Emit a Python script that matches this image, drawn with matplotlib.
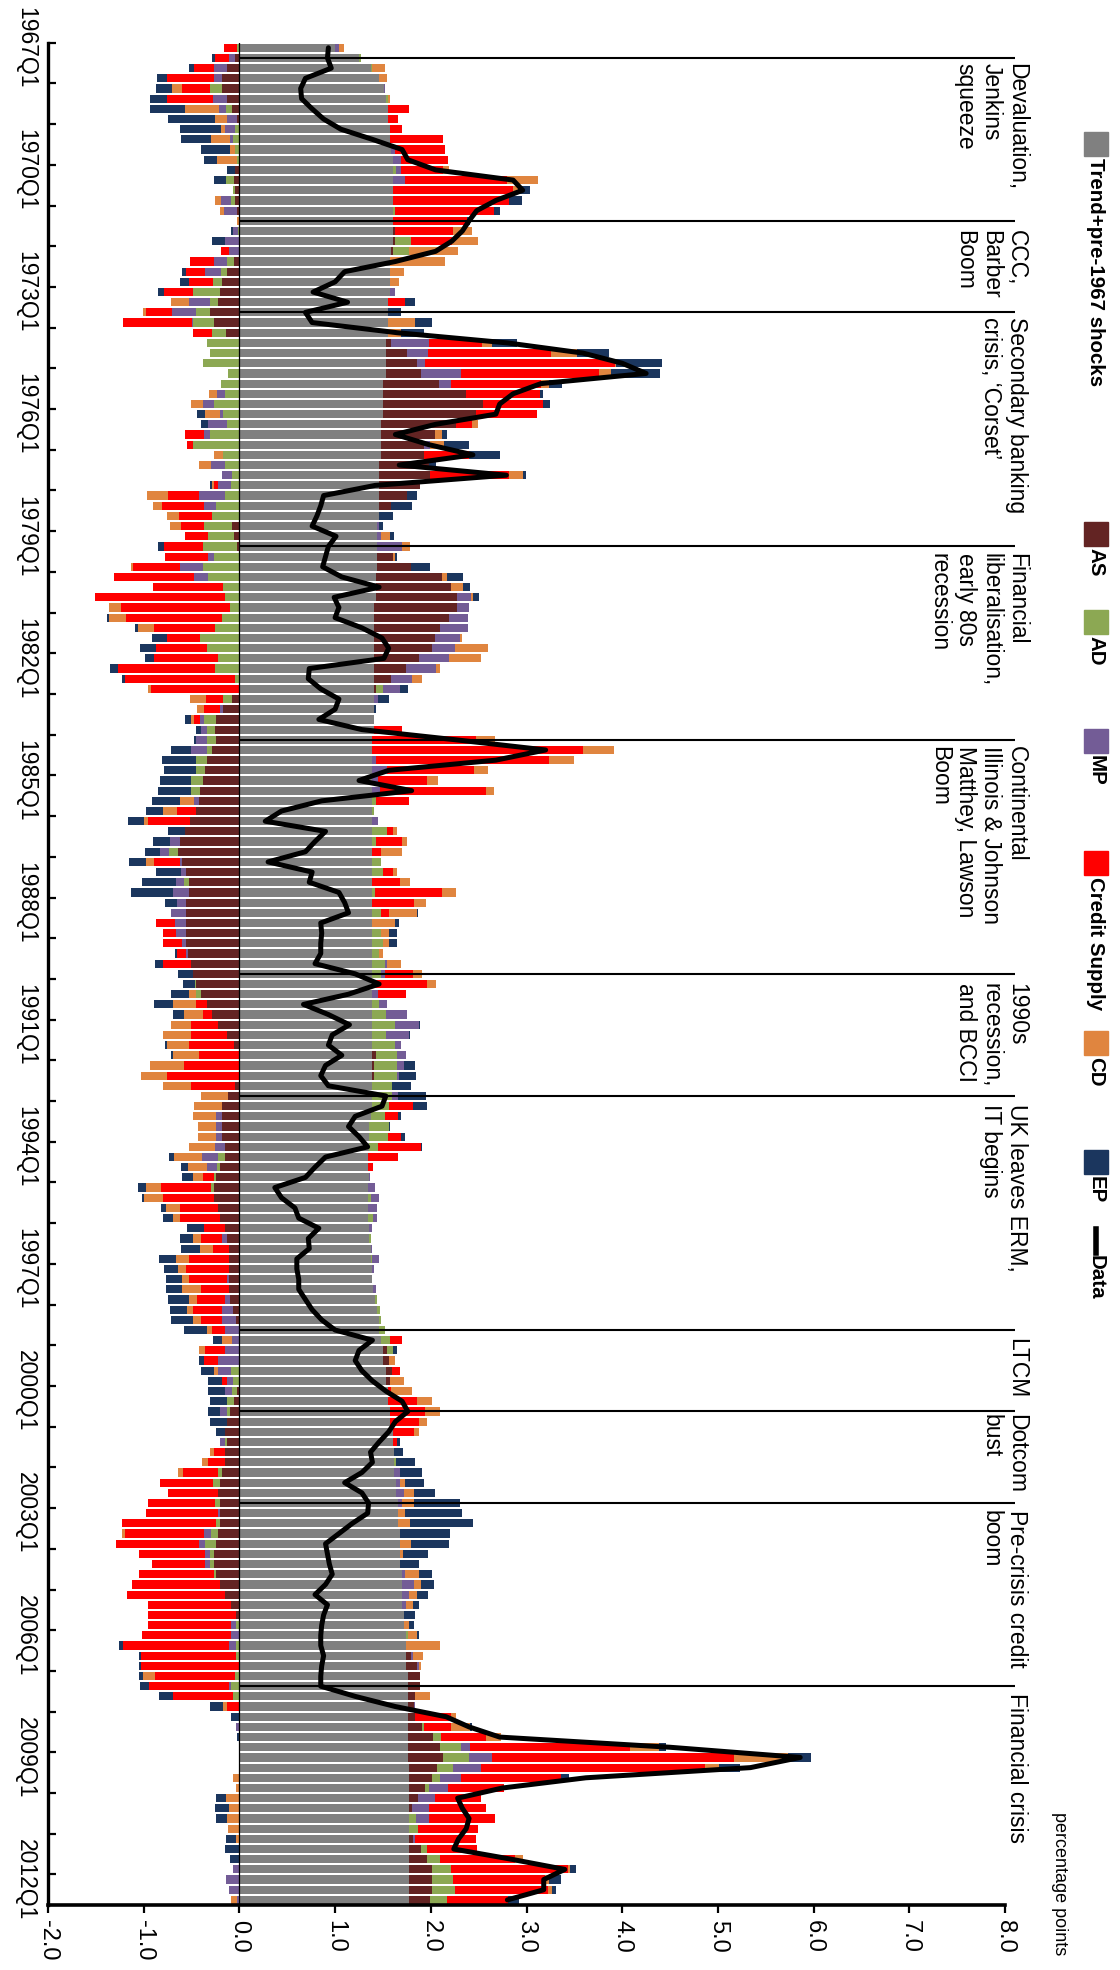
import numpy as np
import matplotlib
matplotlib.use("Agg")
import matplotlib.pyplot as plt
from matplotlib import font_manager
from matplotlib.patches import Rectangle
from matplotlib.lines import Line2D

plt.rcParams['font.family'] = ['Liberation Sans', 'DejaVu Sans']

# ---------------------------------------------------------------- data
first_year = 1967
n_quarters = 183  # 1967Q1 .. 2012Q3
label_years = list(range(1967, 2013, 3))
label_texts = [f"{y}Q1" for y in label_years]

value_ticks = [-2, -1, 0, 1, 2, 3, 4, 5, 6, 7, 8]
value_tick_labels = ["-2.0", "-1.0", "0.0", "1.0", "2.0", "3.0", "4.0",
                     "5.0", "6.0", "7.0", "8.0"]

trend = [
    1.00, 1.25, 1.37, 1.46, 1.51, 1.53, 1.55, 1.55, 1.57, 1.57,
    1.58, 1.60, 1.60, 1.60, 1.61, 1.60, 1.60, 1.61, 1.60, 1.60,
    1.58, 1.57, 1.57, 1.57, 1.57, 1.55, 1.55, 1.55, 1.55, 1.53,
    1.53, 1.53, 1.53, 1.50, 1.50, 1.50, 1.50, 1.48, 1.48, 1.48,
    1.48, 1.46, 1.46, 1.46, 1.46, 1.46, 1.46, 1.44, 1.44, 1.44,
    1.44, 1.44, 1.43, 1.43, 1.43, 1.41, 1.41, 1.41, 1.41, 1.41,
    1.41, 1.41, 1.41, 1.41, 1.41, 1.41, 1.41, 1.41, 1.39, 1.39,
    1.39, 1.39, 1.39, 1.39, 1.39, 1.39, 1.39, 1.39, 1.39, 1.39,
    1.39, 1.39, 1.39, 1.39, 1.39, 1.39, 1.39, 1.39, 1.39, 1.39,
    1.39, 1.39, 1.39, 1.39, 1.39, 1.39, 1.39, 1.39, 1.39, 1.39,
    1.39, 1.39, 1.39, 1.39, 1.39, 1.37, 1.35, 1.35, 1.35, 1.34,
    1.34, 1.35, 1.34, 1.34, 1.34, 1.34, 1.35, 1.35, 1.37, 1.37,
    1.39, 1.39, 1.40, 1.42, 1.44, 1.46, 1.46, 1.48, 1.50, 1.50,
    1.53, 1.53, 1.55, 1.55, 1.57, 1.57, 1.60, 1.60, 1.62, 1.62,
    1.62, 1.64, 1.64, 1.66, 1.66, 1.66, 1.68, 1.68, 1.68, 1.68,
    1.70, 1.70, 1.70, 1.70, 1.72, 1.72, 1.74, 1.74, 1.74, 1.74,
    1.76, 1.76, 1.76, 1.76, 1.76, 1.76, 1.76, 1.76, 1.76, 1.77,
    1.77, 1.77, 1.77, 1.77, 1.77, 1.77, 1.77, 1.77, 1.77, 1.77,
    1.77, 1.77, 1.77,
]

agg_supply = [
    0, -0.05, -0.13, -0.18, -0.18, -0.13, -0.08, -0.03, 0, 0,
    0, 0, -0.05, -0.06, -0.05, -0.05, -0.03, 0, 0.03, 0.03,
    0.02, -0.06, -0.13, -0.18, -0.20, -0.22, -0.31, -0.27, -0.14, 0.05,
    0.22, 0.33, 0.37, 0.59, 0.87, 1.05, 0.97, 0.78, 0.56, 0.45,
    0.45, 0.52, 0.53, 0.43, 0.29, 0.12, 0, -0.08, -0.06, -0.02,
    0.17, 0.35, 0.69, 0.78, 0.84, 0.86, 0.78, 0.69, 0.63, 0.60,
    0.47, 0.33, 0.17, 0.02, -0.08, -0.17, -0.24, -0.26, -0.24, -0.29,
    -0.34, -0.36, -0.38, -0.41, -0.42, -0.45, -0.52, -0.57, -0.62, -0.64,
    -0.60, -0.56, -0.53, -0.53, -0.56, -0.56, -0.56, -0.56, -0.56, -0.54,
    -0.51, -0.49, -0.45, -0.40, -0.34, -0.29, -0.22, -0.13, -0.06, 0.04,
    0.02, 0.02, -0.05, -0.12, -0.18, -0.18, -0.18, -0.18, -0.15, -0.15,
    -0.20, -0.24, -0.27, -0.27, -0.22, -0.20, -0.15, -0.13, -0.11, -0.11,
    -0.11, -0.11, -0.11, -0.10, -0.07, -0.04, 0, 0, 0.04, 0.06,
    0.06, 0.04, -0.03, -0.06, -0.10, -0.13, -0.15, -0.13, -0.15, -0.15,
    -0.18, -0.20, -0.22, -0.20, -0.20, -0.20, -0.22, -0.24, -0.27, -0.27,
    -0.24, -0.20, -0.15, -0.09, -0.04, 0, 0, 0, 0.05, 0.12,
    0.13, 0.13, 0.08, 0.06, 0.07, 0.15, 0.26, 0.34, 0.37, 0.30,
    0.24, 0.17, 0.10, 0.03, 0, 0, 0.04, 0.13, 0.19, 0.24,
    0.24, 0.24, 0.22,
]

agg_demand = [
    -0.02, 0.02, 0.02, 0, -0.13, 0.02, -0.06, 0, -0.05, -0.07,
    -0.05, -0.03, 0.04, -0.08, -0.02, -0.04, 0.03, 0, -0.01, 0.16,
    0.17, -0.07, -0.06, -0.10, -0.29, -0.09, -0.14, -0.21, -0.15, -0.34,
    -0.31, -0.38, -0.12, -0.19, -0.15, -0.27, -0.17, -0.13, -0.31, -0.48,
    -0.17, -0.15, -0.08, -0.09, -0.15, -0.24, -0.29, -0.29, -0.27, -0.36,
    -0.27, -0.38, -0.33, -0.17, -0.15, -0.10, -0.18, -0.25, -0.41, -0.34,
    -0.22, -0.25, -0.05, 0.07, -0.09, 0, -0.13, -0.08, -0.10, -0.05,
    -0.11, -0.09, -0.13, -0.10, 0.04, 0.02, 0, 0.15, 0.04, -0.10,
    0.09, 0.11, -0.05, 0.03, 0, 0.09, 0, 0.09, 0.11, 0.07,
    0.13, 0.09, -0.01, -0.05, 0.07, 0.14, 0.24, 0.14, 0.24, 0.22,
    0.24, 0.24, 0.20, 0.20, 0.17, 0.15, 0.21, 0.20, 0.10, -0.07,
    -0.03, -0.03, -0.03, 0.04, 0, 0.06, 0, 0.02, 0, 0.02,
    0, 0, 0, 0.02, 0.03, 0.02, 0.06, 0.09, 0.07, 0,
    -0.09, -0.07, -0.05, -0.07, -0.03, 0, 0, -0.02, 0, 0.02,
    -0.04, -0.08, 0, -0.05, 0, -0.04, -0.08, -0.12, -0.04, -0.04,
    -0.03, 0, 0, 0, 0, -0.04, 0.02, -0.04, -0.04, 0,
    -0.05, -0.09, -0.07, 0, 0, 0.02, 0.09, 0.22, 0.27, 0.16,
    0.09, 0.04, 0, 0, 0.08, 0.10, 0, 0.06, 0.14, 0.20,
    0.22, 0.24, 0.18,
]

monetary_policy = [
    0.04, -0.06, -0.14, -0.09, 0.01, -0.15, -0.07, -0.10, -0.10, -0.03,
    0.05, 0.09, 0.05, 0.13, 0, -0.10, -0.13, 0, -0.06, -0.15,
    -0.11, -0.14, -0.17, 0, 0.06, -0.22, -0.25, -0.02, 0, 0.40,
    0.22, 0.08, 0.42, 0.12, -0.08, -0.11, -0.03, -0.20, -0.06, 0.06,
    0, -0.15, -0.10, -0.13, -0.27, -0.13, 0, 0.02, 0.04, 0.26,
    -0.06, -0.24, -0.14, 0, 0.15, 0.13, 0.20, 0.29, 0.26, 0.24,
    0.31, 0.31, 0.22, 0.18, 0.04, -0.03, -0.04, -0.06, -0.11, -0.17,
    0.04, 0.15, 0.06, 0.08, -0.05, 0, 0.06, 0, -0.11, -0.09,
    -0.02, -0.05, -0.08, -0.16, -0.09, -0.15, -0.11, -0.10, -0.04, -0.02,
    0.02, 0.04, 0, 0.06, 0.08, 0.22, 0.25, 0.24, 0.06, 0.09,
    0.07, 0.02, 0, 0.07, 0, -0.06, -0.06, -0.06, -0.11, -0.17,
    -0.11, 0.01, 0.08, 0.08, 0.10, 0.04, 0.04, -0.05, 0.02, 0.07,
    0.02, -0.02, 0.03, -0.05, -0.11, -0.14, -0.15, -0.08, -0.15, -0.22,
    -0.13, -0.06, -0.07, 0, -0.07, 0, 0, -0.05, 0, 0,
    0.06, 0.04, 0.08, 0.04, -0.02, 0, -0.07, -0.06, -0.05, -0.05,
    0.03, 0.12, 0.07, 0.04, 0, -0.05, -0.09, -0.07, 0.02, 0.02,
    0, -0.02, 0, 0.02, 0, -0.04, 0, 0.09, 0.24, 0.29,
    0.22, 0.20, 0.17, 0.18, 0.13, 0, 0.03, 0, 0, -0.07,
    -0.14, -0.11, -0.02,
]

credit_supply = [
    -0.14, -0.15, -0.20, -0.49, -0.29, -0.48, 0.22, 0.11, 0.13, 0.56,
    0.52, 0.49, 0.44, 1.07, 1.25, 1.22, 1.03, 0.77, 0.60, 0.43,
    -0.08, -0.25, -0.20, -0.25, -0.30, 0.18, -0.28, -0.72, -0.20, 0.56,
    1.29, 1.98, 1.44, 0.94, 0.77, 0.62, 0.64, 0.17, -0.20, -0.07,
    0.47, 0, 0.83, -0.05, -0.33, -0.44, -0.34, -0.24, -0.24, -0.41,
    -0.45, -0.49, -0.84, -0.73, -1.36, -1.14, -1.01, -0.64, -0.35, -0.53,
    -0.67, -1.02, -1.15, -0.92, -0.18, -0.17, -0.06, 0.29, 1.08, 2.20,
    1.81, 0.91, 0.51, 1.11, 0.34, -0.20, -0.44, 0.07, 0.27, 0.09,
    -0.27, 0.11, 0.29, 0.70, 0.43, 0.08, -0.20, -0.14, -0.20, -0.09,
    -0.29, 0.29, 0.57, 0.29, -0.11, -0.09, -0.29, -0.38, -0.47, -0.42,
    -0.58, -0.76, -0.46, 0, 0.25, 0.14, 0, 0.14, 0.45, 0.32,
    0.06, -0.11, -0.52, -0.53, -0.40, -0.42, -0.22, -0.22, -0.17, -0.42,
    -0.45, -0.40, -0.29, -0.29, -0.30, -0.22, -0.14, 0.13, -0.21, -0.15,
    0.09, -0.05, 0.03, 0.31, 0.37, 0.31, 0.22, 0.05, -0.12, -0.18,
    -0.37, -0.55, -0.53, -0.71, -0.76, -0.99, -0.83, -0.87, -0.69, -0.55,
    -0.78, -0.92, -1.02, -0.86, -0.91, -0.86, -0.93, -1.11, -0.99, -1.03,
    -0.83, -0.83, -0.62, -0.13, 0.38, 0.28, 0.47, 1.67, 2.53, 2.34,
    1.04, 0.59, 0.48, 0.60, 0.69, 0.62, 0.63, 0.52, 0.78, 1.22,
    0.96, 0.97, 0.64,
]

credit_demand = [
    0.05, 0, 0.13, 0.08, -0.10, 0.02, -0.36, -0.13, -0.04, -0.20,
    -0.05, -0.20, 0.06, 0.32, 0.05, -0.06, -0.04, -0.03, 0.20, 0.27,
    0.51, 0.58, 0.15, 0.10, 0, -0.18, -0.03, 0.29, 0.14, 0.10,
    0.27, 0.01, 0.12, 0.08, -0.09, -0.13, -0.16, 0.06, 0.08, 0.15,
    -0.10, -0.12, 0.14, -0.02, -0.22, -0.09, -0.13, -0.12, 0.09, 0.08,
    0.02, -0.02, 0.05, 0.13, 0.02, -0.12, -0.17, -0.17, 0.03, 0.35,
    0.33, 0.05, 0.11, -0.04, -0.17, -0.07, -0.04, 0, 0.20, 0.32,
    0.26, 0.15, 0.12, 0.08, -0.15, -0.15, -0.04, 0.04, 0.05, 0.22,
    -0.09, 0.04, 0.10, 0.14, 0.13, 0.30, 0.24, 0.08, 0.06, 0.04,
    0.15, 0.10, 0.09, -0.08, -0.24, -0.20, -0.20, -0.29, -0.23, -0.27,
    -0.35, -0.27, -0.29, -0.28, -0.29, -0.24, -0.19, -0.19, -0.27, -0.29,
    -0.20, -0.11, -0.16, -0.20, -0.15, -0.07, 0, -0.09, -0.13, -0.13,
    -0.08, -0.07, -0.20, -0.09, -0.07, -0.09, -0.05, -0.10, -0.06, 0.07,
    -0.05, 0.15, 0.22, 0.15, 0.16, 0.08, 0.06, 0, -0.04, -0.06,
    -0.05, 0.05, 0.10, 0.12, 0.07, 0.12, -0.03, 0.11, 0.03, 0,
    0.15, 0.08, 0.09, 0.07, 0, 0.05, 0.10, 0.36, 0.11, 0.02,
    -0.13, 0, 0.15, -0.04, 0.05, 0.20, 0.15, 0.30, 0.56, 0.15,
    -0.07, -0.04, -0.14, -0.11, -0.13, -0.12, -0.04, 0, 0.08, 0.02,
    0.04, 0.05, -0.07,
]

exchange_policy = [
    0, -0.03, -0.06, -0.10, -0.17, -0.17, -0.36, -0.49, -0.43, -0.31,
    -0.30, -0.14, -0.08, -0.13, 0.13, 0.13, 0.06, 0.03, -0.02, -0.14,
    0, 0, -0.04, -0.09, -0.06, 0.11, 0.14, 0.17, 0.24, 0.26,
    0.33, 0.49, 0.52, 0.14, 0.03, 0.08, -0.08, -0.07, 0.05, 0.26,
    0.32, 0.07, 0.03, -0.02, 0.11, 0.22, 0.14, 0.04, 0.05, -0.06,
    0.02, 0.20, 0.17, 0.07, 0.06, 0, -0.02, -0.03, -0.15, -0.17,
    -0.10, -0.08, -0.03, 0.08, 0.11, 0.02, -0.06, -0.05, -0.02, -0.20,
    -0.36, -0.34, -0.32, -0.34, -0.29, -0.18, -0.16, -0.18, -0.17, -0.16,
    -0.17, -0.26, -0.36, -0.44, -0.13, 0.01, 0.04, 0.09, 0.09, -0.02,
    -0.08, -0.15, -0.13, -0.18, -0.20, -0.11, 0.01, 0.01, -0.02, -0.02,
    0.11, 0.18, 0.20, 0.29, 0.15, 0.03, 0.01, 0.04, 0.01, -0.06,
    -0.07, -0.11, -0.08, -0.02, -0.05, -0.11, -0.18, -0.13, -0.20, -0.18,
    -0.15, -0.17, -0.17, -0.22, -0.18, -0.22, -0.24, -0.10, 0.04, -0.05,
    -0.13, -0.15, -0.18, -0.18, -0.13, -0.18, -0.09, 0.03, 0.09, 0.20,
    0.23, 0.20, 0.22, 0.48, 0.60, 0.66, 0.52, 0.40, 0.26, 0.20,
    0.13, 0.13, 0.11, 0.07, 0.12, 0.05, 0.02, -0.04, -0.02, -0.02,
    -0.04, -0.10, -0.15, -0.14, -0.09, 0.02, -0.03, 0.08, 0.24, 0.22,
    0.08, 0, -0.10, -0.15, -0.11, 0, -0.10, -0.15, -0.10, 0.07,
    0.13, 0.04, 0.11,
]

observed = [
    0.93, 0.92, 0.96, 0.69, 0.64, 0.65, 0.76, 0.88, 1.06, 1.39,
    1.70, 1.76, 2.05, 2.86, 2.96, 2.68, 2.48, 2.40, 2.33, 2.22,
    2.05, 1.63, 1.10, 1.00, 0.77, 1.13, 0.69, 0.76, 1.65, 2.80,
    3.59, 4.00, 4.25, 3.15, 2.86, 2.72, 2.68, 2.05, 1.63, 1.98,
    2.44, 1.67, 2.79, 1.42, 0.88, 0.85, 0.81, 0.76, 1.01, 0.93,
    0.90, 0.87, 1.07, 1.46, 0.99, 1.04, 1.00, 1.28, 1.49, 1.56,
    1.51, 0.73, 0.72, 0.85, 1.04, 1.00, 0.83, 1.28, 2.26, 3.20,
    2.68, 1.56, 1.25, 1.80, 0.86, 0.44, 0.27, 0.90, 0.79, 0.69,
    0.30, 0.76, 0.73, 1.04, 1.10, 1.14, 0.85, 0.86, 0.85, 0.85,
    0.79, 1.21, 1.46, 1.14, 0.67, 0.93, 1.15, 0.97, 0.93, 1.07,
    0.90, 0.85, 0.93, 1.53, 1.49, 1.21, 1.14, 1.25, 1.34, 0.90,
    0.79, 0.69, 0.37, 0.44, 0.58, 0.62, 0.83, 0.72, 0.73, 0.60,
    0.60, 0.62, 0.62, 0.69, 0.76, 0.86, 1.00, 1.39, 1.25, 1.21,
    1.28, 1.39, 1.53, 1.70, 1.76, 1.63, 1.56, 1.46, 1.37, 1.39,
    1.28, 1.10, 1.28, 1.35, 1.34, 1.18, 1.04, 0.90, 0.92, 0.94,
    0.97, 0.90, 0.79, 0.92, 0.88, 0.86, 0.85, 0.85, 0.88, 0.86,
    0.85, 0.85, 1.21, 1.63, 2.16, 2.40, 2.72, 4.50, 5.86, 5.34,
    3.62, 2.75, 2.28, 2.33, 2.40, 2.37, 2.29, 2.24, 2.84, 3.40,
    3.18, 3.18, 2.80,
]

# episodes: quarter index where each marker line sits, and its caption
event_quarters = [1, 17, 26, 49, 68, 91, 103, 126, 134, 143, 161]
event_labels = [
    "Devaluation,\nJenkins\nsqueeze",
    "CCC,\nBarber\nBoom",
    "Secondary banking\ncrisis, \u2018Corset\u2019",
    "Financial\nliberalisation,\nearly 80s\nrecession",
    "Continental\nIllinois & Johnson\nMatthey, Lawson\nBoom",
    "1990s\nrecession,\nand BCCI",
    "UK leaves ERM,\nIT begins",
    "LTCM",
    "Dotcom\nbust",
    "Pre-crisis credit\nboom",
    "Financial crisis",
]
event_text_shift = [0.5, 0.9, 0.5, 0.6, 0.6, 0.9, 0.8, 0.8, 0.3, 0.7, 0.7]

series_names = ["Trend+pre-1967 shocks", "AS", "AD", "MP", "Credit Supply", "CD", "EP"]
series_values = [trend, agg_supply, agg_demand, monetary_policy,
                 credit_supply, credit_demand, exchange_policy]
series_colors = ["#808080", "#632423", "#8CA853", "#735C96",
                 "#FF0000", "#E0853F", "#1B365E"]

# ---------------------------------------------------------------- figure
W, H = 1120, 1970
fig = plt.figure(figsize=(W / 100, H / 100), dpi=100)
ax_left, ax_right, ax_top, ax_bottom = 48, 1005, 42.7, 1905
ax = fig.add_axes([ax_left / W, 1 - ax_bottom / H,
                   (ax_right - ax_left) / W, (ax_bottom - ax_top) / H])

rows = np.arange(n_quarters)
pos_base = np.zeros(n_quarters)
neg_base = np.zeros(n_quarters)
for vals, color in zip(series_values, series_colors):
    v = np.asarray(vals, dtype=float)
    start = np.where(v >= 0, pos_base, neg_base)
    ax.barh(rows, v, left=start, height=0.8, color=color,
            edgecolor="none", zorder=2)
    pos_base += np.clip(v, 0, None)
    neg_base += np.clip(v, None, 0)

ax.axvline(0, color="black", lw=0.9, zorder=3)

ax.plot(observed, rows, color="black", lw=3.6, zorder=6,
        solid_joinstyle="round", solid_capstyle="round")

for q, text, shift in zip(event_quarters, event_labels, event_text_shift):
    ax.plot([0, 8.1], [q, q], color="black", lw=1.5, zorder=4,
            clip_on=False, solid_capstyle="butt")
    ax.text(8.24, q + shift, text, rotation=-90, rotation_mode="anchor",
            ha="left", va="top", fontsize=16.5, linespacing=1.15,
            clip_on=False)

ax.set_xlim(-2, 8)
ax.set_ylim(n_quarters - 0.5, -0.5)

ax.set_xticks(value_ticks)
ax.set_xticklabels(value_tick_labels, rotation=-90, fontsize=17)
ax.tick_params(axis="x", direction="out", length=6, width=1.6, pad=5)

label_rows = [(y - first_year) * 4 for y in label_years]
ax.set_yticks(label_rows)
ax.set_yticklabels(label_texts, rotation=-90, va="center", fontsize=16.5)
ax.tick_params(axis="y", which="major", length=0, pad=8)
ax.set_yticks(np.arange(-0.5, n_quarters, 4), minor=True)
ax.tick_params(axis="y", which="minor", direction="in", length=6, width=1.6)

for side in ("top", "right"):
    ax.spines[side].set_visible(False)
ax.spines["left"].set_linewidth(2.4)
ax.spines["bottom"].set_linewidth(2.6)
ax.spines["left"].set_capstyle("projecting")
ax.spines["bottom"].set_capstyle("projecting")
ax.set_facecolor("white")

# ---------------------------------------------------------------- legend
names = {f.name for f in font_manager.fontManager.ttflist}
if "Liberation Sans Narrow" in names:
    legend_font, legend_size = "Liberation Sans Narrow", 18
else:
    legend_font, legend_size = "Liberation Sans", 14.8


def px(x, y):
    return x / W, 1 - y / H


key_x0, key_size = 1084, 24
legend_starts = [132, 522, 610, 729, 851, 1031, 1150, 1229]
legend_names = series_names + ["Data"]
legend_colors = series_colors + ["black"]
for name, color, y0 in zip(legend_names, legend_colors, legend_starts):
    if name == "Data":
        x0, y0f = px(key_x0 + key_size / 2, y0)
        x1, y1f = px(key_x0 + key_size / 2, y0 + key_size)
        fig.add_artist(Line2D([x0, x1], [y0f, y1f], color="black", lw=4))
    else:
        x0, yb = px(key_x0, y0 + key_size)
        fig.add_artist(Rectangle((x0, yb), key_size / W, key_size / H,
                                 transform=fig.transFigure, color=color))
    tx, ty = px(key_x0 + key_size / 2, y0 + key_size + 2)
    fig.text(tx, ty, name, rotation=-90, rotation_mode="anchor",
             ha="left", va="center", fontsize=legend_size,
             family=[legend_font, "DejaVu Sans"], fontweight="bold")

tx, ty = px(1068, 1812)
fig.text(tx, ty, "percentage points", rotation=-90, rotation_mode="anchor",
         ha="left", va="top", fontsize=13)

fig.savefig("out.png", dpi=100, facecolor="white")
